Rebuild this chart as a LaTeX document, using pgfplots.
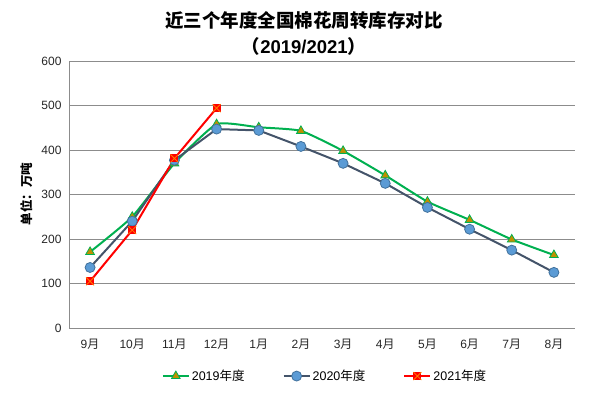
\documentclass[border=0pt]{standalone}
\usepackage{fontspec}
\setmainfont{Liberation Sans}
\newfontfamily\cjk{Noto Sans CJK SC}
\usepackage{pgfplots}
\pgfplotsset{compat=1.18}
\definecolor{gline}{HTML}{00B050}
\definecolor{gfill}{HTML}{BF9000}
\definecolor{bline}{HTML}{44546A}
\definecolor{bfill}{HTML}{5B9BD5}
\definecolor{bedge}{HTML}{41719C}
\definecolor{gridc}{HTML}{8C8C8C}
\pgfdeclareplotmark{sqx}{%
  \pgfpathrectangle{\pgfpoint{-\pgfplotmarksize}{-\pgfplotmarksize}}{\pgfpoint{2\pgfplotmarksize}{2\pgfplotmarksize}}%
  \pgfsetfillcolor{red}\pgfusepath{fill}%
  \pgfpathmoveto{\pgfpoint{-\pgfplotmarksize}{-\pgfplotmarksize}}\pgfpathlineto{\pgfpoint{\pgfplotmarksize}{\pgfplotmarksize}}%
  \pgfpathmoveto{\pgfpoint{-\pgfplotmarksize}{\pgfplotmarksize}}\pgfpathlineto{\pgfpoint{\pgfplotmarksize}{-\pgfplotmarksize}}%
  \pgfsetlinewidth{0.8pt}\pgfsetstrokecolor{orange}\pgfusepath{stroke}}
\begin{document}
\begin{tikzpicture}
\path[use as bounding box] (0,0) rectangle (610pt,399pt);
\begin{axis}[
  at={(69pt,71pt)}, anchor=south west,
  scale only axis, width=506pt, height=267pt,
  xmin=-0.5, xmax=11.5, ymin=0, ymax=600,
  ytick={0,100,...,600},
  xtick={0,...,11},
  xticklabels={{9{\cjk 月}},{10{\cjk 月}},{11{\cjk 月}},{12{\cjk 月}},{1{\cjk 月}},{2{\cjk 月}},{3{\cjk 月}},{4{\cjk 月}},{5{\cjk 月}},{6{\cjk 月}},{7{\cjk 月}},{8{\cjk 月}}},
  /pgf/number format/assume math mode=true,
  tick label style={font=\fontsize{12}{14}\selectfont, text=black!85},
  xticklabel style={yshift=-8pt},
  yticklabel style={xshift=-4pt},
  major tick length=0pt,
  axis x line*=bottom, axis y line*=left,
  axis line style={gridc, line width=1pt, -},
  ymajorgrids, grid style={gridc, line width=1pt},
  legend columns=3,
  legend image post style={},
  legend style={at={(0.506,-0.18)}, anchor=center, draw=none, fill=none,
    font=\fontsize{12.5}{14}\selectfont, /tikz/every even column/.append style={column sep=36pt},
    /tikz/every odd column/.append style={}},
  legend cell align=left,
  legend image code/.code={\draw[#1] (0pt,0pt) -- (26pt,0pt); \draw[#1, only marks] plot coordinates {(13pt,0pt)};},
]
\addplot[gline, line width=2pt, smooth, tension=0.3, mark=triangle*, mark size=5pt,
  mark options={fill=gfill, draw=gline, line width=0.8pt, solid}]
  coordinates {(0,171) (1,250) (2,370) (3,458) (4,451) (5,443) (6,398) (7,343) (8,284) (9,243) (10,199) (11,164)};
\addlegendentry{2019{\cjk 年度}}
\addplot[bline, line width=2pt, mark=*, mark size=5pt,
  mark options={fill=bfill, draw=bedge, line width=0.8pt, solid}]
  coordinates {(0,136) (1,240) (2,377) (3,447) (4,444) (5,408) (6,370) (7,325) (8,271) (9,222) (10,175) (11,125)};
\addlegendentry{2020{\cjk 年度}}
\addplot[red, line width=2pt, mark=sqx, mark size=4pt]
  coordinates {(0,105) (1,220) (2,381) (3,494)};
\addlegendentry{2021{\cjk 年度}}
\end{axis}
\node[font=\cjk\bfseries\fontsize{18.5}{20}\selectfont] at (304pt,379pt) {近三个年度全国棉花周转库存对比};
\node[font=\bfseries\fontsize{18.5}{20}\selectfont] at (304pt,353pt) {{\cjk （}2019/2021{\cjk ）}};
\node[rotate=90, font=\cjk\bfseries\fontsize{12.5}{14}\selectfont] at (27pt,205pt) {单位：万吨};
\end{tikzpicture}
\end{document}
